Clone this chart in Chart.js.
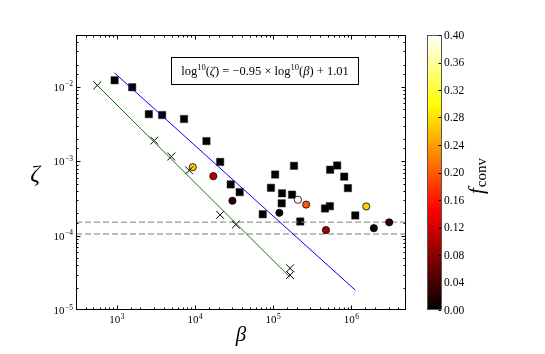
<!DOCTYPE html>
<html><head><meta charset="utf-8">
<script src="https://cdn.jsdelivr.net/npm/chart.js@4.4.1/dist/chart.umd.min.js"></script>
<style>html,body{margin:0;padding:0;background:#fff}canvas{display:block}</style>
</head><body>
<canvas id="c" width="545" height="354"></canvas>
<script>
// ---- data ----
const squareBeta = [936, 1571, 2564, 3793, 7227, 14000, 20950, 28590, 37240, 73480, 93600, 105900, 184600, 129600, 128400, 174200, 221900, 535100, 658600, 810400, 903800, 530900, 459800, 1122000];
const squareZeta = [1.23e-2, 9.91e-3, 4.31e-3, 4.19e-3, 3.71e-3, 1.87e-3, 9.81e-4, 4.89e-4, 3.85e-4, 1.94e-4, 4.40e-4, 6.64e-4, 8.70e-4, 3.71e-4, 2.72e-4, 3.56e-4, 1.55e-4, 7.71e-4, 8.79e-4, 6.22e-4, 4.36e-4, 2.49e-4, 2.32e-4, 1.87e-4];
const circleBeta = [9354, 17130, 30100, 119900, 207000, 263800, 473200, 1552000, 1939000, 3047000];
const circleZeta = [8.34e-4, 6.31e-4, 2.95e-4, 2.03e-4, 3.04e-4, 2.62e-4, 1.19e-4, 2.47e-4, 1.26e-4, 1.51e-4];
const circleFconv = [0.27, 0.11, 0.02, 0.005, 0.45, 0.20, 0.09, 0.27, 0.01, 0.03];
const crossBeta = [562, 3013, 4970, 8414, 20950, 33200, 164400, 164400];
const crossZeta = [1.05e-2, 1.90e-3, 1.16e-3, 7.55e-4, 1.90e-4, 1.41e-4, 3.64e-5, 2.95e-5];
const fitBlueBeta = [936, 1122000];
const fitBlueZeta = [1.54e-2, 1.85e-5];
const fitGreenBeta = [562, 164400];
const fitGreenZeta = [1.05e-2, 2.75e-5];
const refLineZeta = [1.52e-4, 1.05e-4];
const xRange = [300, 5e6];
const yRange = [1e-5, 0.05];
const xTickExps = [3, 4, 5, 6];
const yTickExps = [-5, -4, -3, -2];
const cbarRange = [0, 0.4];
const cbarTicks = ['0.00','0.04','0.08','0.12','0.16','0.20','0.24','0.28','0.32','0.36','0.40'];
const fitText = [['log','r'],['10','s'],['(','r'],['\u03B6','i'],[') = \u22120.95 \u00D7 log','r'],['10','s'],['(','r'],['\u03B2','i'],[') + 1.01','r']];

// ---- helpers ----
const serif = '"Liberation Serif", "DejaVu Serif", serif';
const HOT = [[0,[0,0,0]],[0.365079,[255,0,0]],[0.746032,[255,255,0]],[1,[255,255,255]]];
function hot(t){
  t = Math.max(0, Math.min(1, t));
  for (let i = 1; i < HOT.length; i++) {
    if (t <= HOT[i][0]) {
      const a = HOT[i-1], b = HOT[i], u = (t - a[0]) / (b[0] - a[0]);
      const c = a[1].map((v, k) => Math.round(v + (b[1][k] - v) * u));
      return `rgb(${c[0]},${c[1]},${c[2]})`;
    }
  }
  return 'rgb(255,255,255)';
}
const pts = (xs, ys) => xs.map((x, i) => ({x, y: ys[i]}));

function drawPow(ctx, exp, x, y, align){
  const base = '10', sup = exp < 0 ? '\u2212' + Math.abs(exp) : String(exp);
  ctx.font = `11px ${serif}`; const w1 = ctx.measureText(base).width;
  ctx.font = `7.5px ${serif}`; const w2 = ctx.measureText(sup).width;
  const total = w1 + w2 + 0.5;
  const x0 = align === 'right' ? x - total : x - total / 2;
  ctx.textAlign = 'left'; ctx.textBaseline = 'alphabetic';
  ctx.font = `11px ${serif}`; ctx.fillText(base, x0, y);
  ctx.font = `7.5px ${serif}`; ctx.fillText(sup, x0 + w1 + 0.5, y - 4.5);
}
const isDecade = v => Math.abs(Math.log10(v) - Math.round(Math.log10(v))) < 1e-9;

const decor = {
  id: 'decor',
  afterDatasetsDraw(chart){
    const ctx = chart.ctx, ca = chart.chartArea;
    const xs = chart.scales.x, ys = chart.scales.y;
    ctx.save();
    ctx.fillStyle = '#000'; ctx.strokeStyle = '#000'; ctx.lineWidth = 1;
    // frame
    ctx.strokeRect(Math.round(ca.left) + 0.5, Math.round(ca.top) + 0.5, Math.round(ca.right - ca.left) - 1, Math.round(ca.bottom - ca.top) - 1);
    // ticks (inside, all four sides)
    ctx.beginPath();
    xs.ticks.forEach(t => {
      const p = Math.round(xs.getPixelForValue(t.value)) + 0.5;
      if (p < ca.left + 1 || p > ca.right - 1) return;
      const L = isDecade(t.value) ? 4.5 : 2.5;
      ctx.moveTo(p, ca.bottom); ctx.lineTo(p, ca.bottom - L);
      ctx.moveTo(p, ca.top); ctx.lineTo(p, ca.top + L);
    });
    ys.ticks.forEach(t => {
      const p = Math.round(ys.getPixelForValue(t.value)) + 0.5;
      if (p < ca.top + 1 || p > ca.bottom - 1) return;
      const L = isDecade(t.value) ? 4.5 : 2.5;
      ctx.moveTo(ca.left, p); ctx.lineTo(ca.left + L, p);
      ctx.moveTo(ca.right, p); ctx.lineTo(ca.right - L, p);
    });
    ctx.stroke();
    // tick labels
    xTickExps.forEach(e => drawPow(ctx, e, xs.getPixelForValue(Math.pow(10, e)), ca.bottom + 13, 'center'));
    yTickExps.forEach(e => drawPow(ctx, e, ca.left - 3, ys.getPixelForValue(Math.pow(10, e)) + 4, 'right'));
    // axis titles
    ctx.textAlign = 'center'; ctx.textBaseline = 'alphabetic';
    ctx.font = `italic 24px ${serif}`;
    ctx.fillText('\u03B6', ca.left - 41, (ca.top + ca.bottom) / 2 + 8);
    ctx.font = `italic 21px ${serif}`;
    ctx.fillText('\u03B2', (ca.left + ca.right) / 2, ca.bottom + 31);
    // fit label box
    const bx = ca.left + 95, by = ca.top + 22, bw = 187, bh = 27;
    ctx.fillStyle = '#fff'; ctx.fillRect(bx, by, bw, bh);
    ctx.strokeStyle = '#000'; ctx.strokeRect(bx + 0.5, by + 0.5, bw, bh);
    ctx.fillStyle = '#000';
    const fonts = {r: `12.5px ${serif}`, i: `italic 12.5px ${serif}`, s: `8.5px ${serif}`};
    let tw = 0;
    fitText.forEach(([t, f]) => { ctx.font = fonts[f]; tw += ctx.measureText(t).width; });
    let cx = bx + bw / 2 - tw / 2 + 0.5;
    const base = by + bh / 2 + 4.5;
    ctx.textAlign = 'left';
    fitText.forEach(([t, f]) => {
      ctx.font = fonts[f];
      ctx.fillText(t, cx, f === 's' ? base - 5 : base);
      cx += ctx.measureText(t).width;
    });
    // colorbar
    const cbL = 427, cbR = 442, cbT = ca.top, cbB = ca.bottom;
    const g = ctx.createLinearGradient(0, cbB, 0, cbT);
    HOT.forEach(([s, c]) => g.addColorStop(s, `rgb(${c[0]},${c[1]},${c[2]})`));
    ctx.fillStyle = g; ctx.fillRect(cbL, cbT, cbR - cbL, cbB - cbT);
    ctx.strokeStyle = '#555'; ctx.strokeRect(cbL + 0.5, cbT + 0.5, cbR - cbL - 1, cbB - cbT - 1);
    ctx.strokeStyle = '#000'; ctx.fillStyle = '#000';
    ctx.font = `11.5px ${serif}`; ctx.textAlign = 'left'; ctx.textBaseline = 'middle';
    ctx.beginPath();
    cbarTicks.forEach(lbl => {
      const v = parseFloat(lbl);
      const p = cbB - (v - cbarRange[0]) / (cbarRange[1] - cbarRange[0]) * (cbB - cbT);
      const pr = Math.round(p) + 0.5;
      ctx.moveTo(cbR - 1, pr); ctx.lineTo(cbR - 3.5, pr);
      ctx.fillText(lbl, cbR + 2, p + 0.5);
    });
    ctx.stroke();
    // colorbar title f_conv (rotated)
    ctx.save();
    ctx.font = `italic 21px ${serif}`; const wf = ctx.measureText('f').width;
    ctx.font = `15px ${serif}`; const wc = ctx.measureText('conv').width;
    const tot = wf + wc + 1;
    ctx.translate(483, 176 + tot / 2);
    ctx.rotate(-Math.PI / 2);
    ctx.textBaseline = 'alphabetic'; ctx.textAlign = 'left';
    ctx.font = `italic 21px ${serif}`; ctx.fillText('f', 0, 0);
    ctx.font = `15px ${serif}`; ctx.fillText('conv', wf + 1, 3);
    ctx.restore();
    ctx.restore();
  }
};

const datasets = [
  {label: 'fit', data: pts(fitBlueBeta, fitBlueZeta), showLine: true, borderColor: '#0000ff', borderWidth: 1, pointRadius: 0},
  {label: 'fit2', data: pts(fitGreenBeta, fitGreenZeta), showLine: true, borderColor: '#008000', borderWidth: 1, pointRadius: 0},
  {label: 'cross', data: pts(crossBeta, crossZeta), pointStyle: 'crossRot', pointRadius: 5.5, borderColor: '#000', borderWidth: 1, backgroundColor: '#000'},
  {label: 'circles', data: pts(circleBeta, circleZeta), pointStyle: 'circle', pointRadius: 3.6,
   backgroundColor: circleFconv.map(f => hot((f - cbarRange[0]) / (cbarRange[1] - cbarRange[0]))), borderColor: '#000', borderWidth: 0.8},
  {label: 'ref1', data: pts(xRange, [refLineZeta[0], refLineZeta[0]]), showLine: true, borderColor: '#808080', borderWidth: 1, borderDash: [6, 3], pointRadius: 0},
  {label: 'ref2', data: pts(xRange, [refLineZeta[1], refLineZeta[1]]), showLine: true, borderColor: '#bdbdbd', borderWidth: 2, borderDash: [6, 3], pointRadius: 0},
  {label: 'squares', data: pts(squareBeta, squareZeta), pointStyle: 'rect', pointRadius: 5.2, backgroundColor: '#000', borderColor: '#222', borderWidth: 0.5}
];

new Chart(document.getElementById('c'), {
  type: 'scatter',
  data: {datasets},
  options: {
    responsive: false, animation: false, events: [],
    layout: {padding: {left: 68, top: 35, right: 139, bottom: 36}},
    plugins: {legend: {display: false}, tooltip: {enabled: false}},
    scales: {
      x: {type: 'logarithmic', min: xRange[0], max: xRange[1], grid: {display: false}, border: {display: false}, ticks: {display: false}},
      y: {type: 'logarithmic', min: yRange[0], max: yRange[1], grid: {display: false}, border: {display: false}, ticks: {display: false}}
    }
  },
  plugins: [decor]
});
</script>
</body></html>
